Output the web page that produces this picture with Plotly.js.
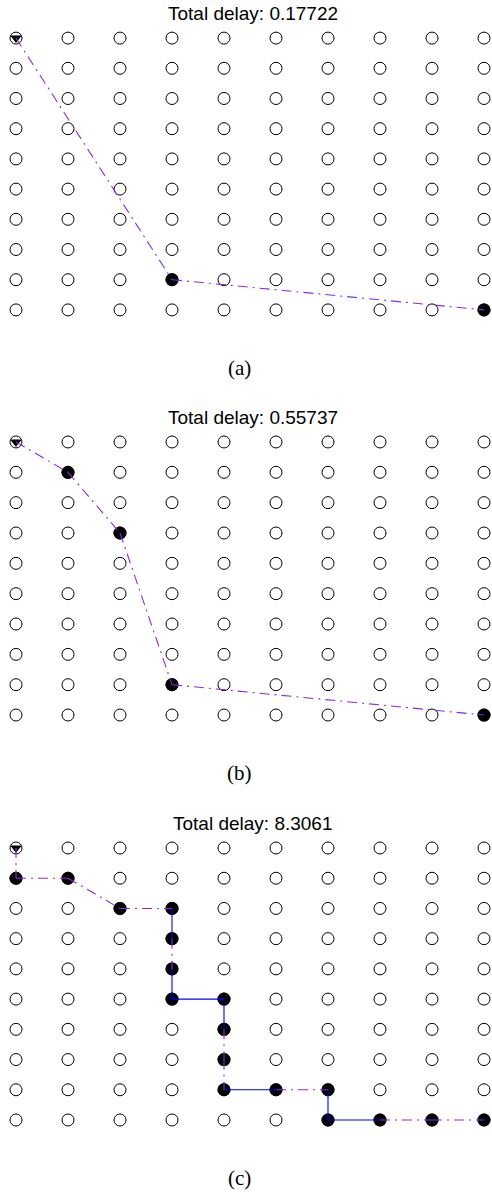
<!DOCTYPE html>
<html>
<head>
<meta charset="utf-8">
<script src="https://cdn.plot.ly/plotly-3.0.1.min.js"></script>
<style>
  html, body { margin: 0; padding: 0; background: #fff; }
  #chart { width: 492px; height: 1192px; }
</style>
</head>
<body>
<div id="chart"></div>
<script>
// 10 x 10 grid of nodes; row 0 is the top row
const gridCols = [0, 1, 2, 3, 4, 5, 6, 7, 8, 9];
const gridRows = [0, 1, 2, 3, 4, 5, 6, 7, 8, 9];

const panelTitles = ['Total delay: 0.17722', 'Total delay: 0.55737', 'Total delay: 8.3061'];
const panelCaptions = ['(a)', '(b)', '(c)'];

// routes: node columns / rows visited from source (top-left) to sink (bottom-right)
const pathColsA = [0, 3, 9];
const pathRowsA = [0, 8, 9];
const linkTypesA = ['d', 'd'];

const pathColsB = [0, 1, 2, 3, 9];
const pathRowsB = [0, 1, 3, 8, 9];
const linkTypesB = ['d', 'd', 'd', 'd'];

const pathColsC = [0, 0, 1, 2, 3, 3, 3, 3, 4, 4, 4, 4, 5, 6, 6, 7, 8, 9];
const pathRowsC = [0, 1, 1, 2, 2, 3, 4, 5, 5, 6, 7, 8, 8, 8, 9, 9, 9, 9];
// 'd' = wireless hop (dash-dot), 's' = wired hop (solid)
const linkTypesC = ['d', 'd', 'd', 'd', 's', 'd', 's', 's', 's', 'd', 'd', 's', 'd', 's', 's', 'd', 'd'];

const paths = [
  { cols: pathColsA, rows: pathRowsA, links: linkTypesA },
  { cols: pathColsB, rows: pathRowsB, links: linkTypesB },
  { cols: pathColsC, rows: pathRowsC, links: linkTypesC }
];

const W = 492, H = 1192;
// vertical extent (px from top) of each panel's plotting area
const panelTop = [23, 426.8, 832.9];
const panelBottom = [325, 730.2, 1135.1];

const linkStyle = {
  d: { color: '#8a2be2', dash: '10px,5px,2px,5px', width: 1.1 },
  s: { color: '#0000ff', dash: 'solid', width: 1.1 }
};

const pyFrac = px => 1 - px / H;

const traces = [];
const layout = {
  width: W, height: H,
  margin: { l: 0, r: 0, t: 0, b: 0 },
  paper_bgcolor: '#fff', plot_bgcolor: '#fff',
  showlegend: false,
  annotations: []
};

paths.forEach((p, i) => {
  const n = i === 0 ? '' : String(i + 1);
  const xa = 'x' + n, ya = 'y' + n;
  const axisCommon = { showgrid: false, zeroline: false, showticklabels: false, ticks: '', showline: false, fixedrange: true };
  layout['xaxis' + n] = Object.assign({ domain: [0, 1], range: [-16 / 52, -16 / 52 + W / 52], anchor: ya }, axisCommon);
  layout['yaxis' + n] = Object.assign({ domain: [pyFrac(panelBottom[i]), pyFrac(panelTop[i])], range: [9.5, -0.5], anchor: xa }, axisCommon);

  // every node as an open circle
  const gx = [], gy = [];
  gridRows.forEach(r => gridCols.forEach(c => { gx.push(c); gy.push(r); }));
  traces.push({
    x: gx, y: gy, xaxis: xa, yaxis: ya, mode: 'markers', hoverinfo: 'skip',
    marker: { symbol: 'circle', size: 12, color: '#fff', line: { color: '#000', width: 1 } }
  });

  // relay and sink nodes on the route
  traces.push({
    x: p.cols.slice(1), y: p.rows.slice(1), xaxis: xa, yaxis: ya, mode: 'markers', hoverinfo: 'skip',
    marker: { symbol: 'circle', size: 13, color: '#000', line: { width: 0 } }
  });

  // source node: down triangle inside the circle
  traces.push({
    x: [p.cols[0]], y: [p.rows[0]], xaxis: xa, yaxis: ya, mode: 'markers', hoverinfo: 'skip',
    marker: { symbol: 'triangle-down', size: 10, color: '#000', line: { width: 0 } }
  });

  // route hops, one trace per hop
  p.links.forEach((t, k) => {
    const s = linkStyle[t];
    traces.push({
      x: [p.cols[k], p.cols[k + 1]], y: [p.rows[k], p.rows[k + 1]],
      xaxis: xa, yaxis: ya, mode: 'lines', hoverinfo: 'skip',
      line: { color: s.color, dash: s.dash, width: s.width }
    });
  });

  layout.annotations.push({
    text: panelTitles[i], xref: 'paper', yref: 'paper', x: 253 / W, y: pyFrac(panelTop[i] - 9),
    xanchor: 'center', yanchor: 'middle', showarrow: false,
    font: { family: 'Liberation Sans, Arial, sans-serif', size: 19, color: '#000' }
  });
  layout.annotations.push({
    text: panelCaptions[i], xref: 'paper', yref: 'paper', x: 239 / W, y: pyFrac(panelBottom[i] + 43),
    xanchor: 'center', yanchor: 'middle', showarrow: false,
    font: { family: 'Liberation Serif, Times New Roman, serif', size: 21, color: '#000' }
  });
});

Plotly.newPlot('chart', traces, layout, { staticPlot: true, displayModeBar: false });
</script>
</body>
</html>
